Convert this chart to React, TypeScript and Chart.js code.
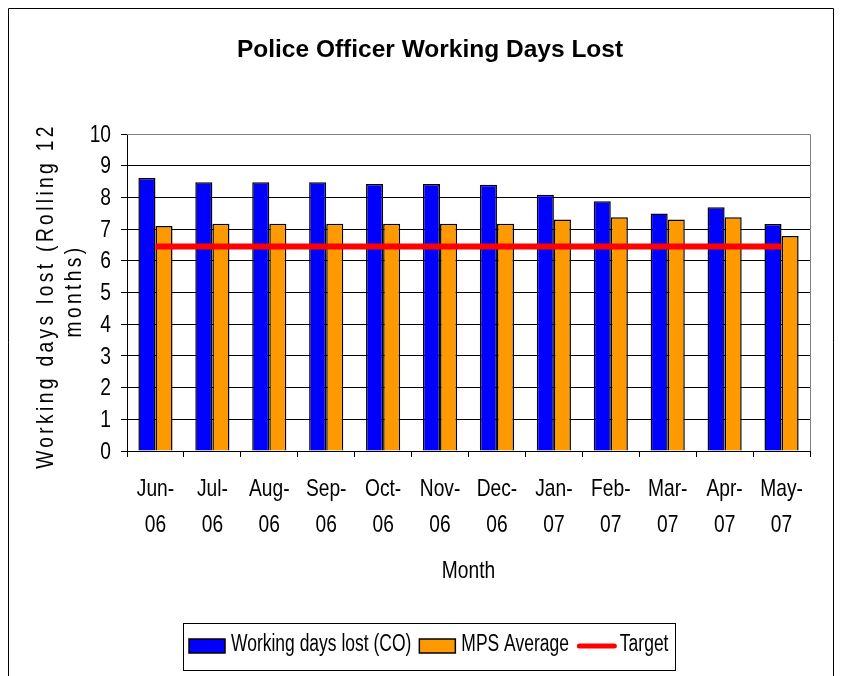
import React, { useEffect, useRef } from 'react';
import { Chart, registerables } from 'chart.js';

Chart.register(...registerables);

const categories = ['Jun-06', 'Jul-06', 'Aug-06', 'Sep-06', 'Oct-06', 'Nov-06', 'Dec-06', 'Jan-07', 'Feb-07', 'Mar-07', 'Apr-07', 'May-07'];
const workingDaysLost = [8.61, 8.48, 8.48, 8.48, 8.42, 8.42, 8.4, 8.08, 7.88, 7.49, 7.69, 7.16];
const mpsAverage = [7.1, 7.17, 7.17, 7.17, 7.17, 7.17, 7.17, 7.3, 7.37, 7.3, 7.37, 6.78];
const target = [6.45, 6.45, 6.45, 6.45, 6.45, 6.45, 6.45, 6.45, 6.45, 6.45, 6.45, 6.45];
const yMin = 0;
const yMax = 10;
const yStep = 1;
const yTitleLines = ['Working days lost (Rolling 12', 'months)'];
const chartTitle = 'Police Officer Working Days Lost';
const xTitle = 'Month';

const FONT = "'Liberation Sans', Arial, sans-serif";
const SX = 0.8; // horizontal condensing (Arial Narrow look)

const W = 827;
const H = 668;

function drawScaled(ctx: CanvasRenderingContext2D, text: string, x: number, y: number, align: CanvasTextAlign, sx: number) {
  ctx.save();
  ctx.translate(x, y);
  ctx.scale(sx, 1);
  ctx.textAlign = align;
  ctx.fillText(text, 0, 0);
  ctx.restore();
}

const framePlugin = {
  id: 'frame',
  beforeDatasetsDraw(chart: any) {
    const { ctx, chartArea } = chart;
    ctx.save();
    ctx.strokeStyle = '#808080';
    ctx.lineWidth = 1;
    ctx.beginPath();
    ctx.moveTo(chartArea.left, Math.round(chartArea.top) + 0.5);
    ctx.lineTo(Math.round(chartArea.right) + 0.5, Math.round(chartArea.top) + 0.5);
    ctx.lineTo(Math.round(chartArea.right) + 0.5, chartArea.bottom);
    ctx.stroke();
    ctx.restore();
  },
  afterDraw(chart: any) {
    const { ctx, chartArea } = chart;
    const xs = chart.scales.x;
    const ys = chart.scales.y;
    ctx.save();
    // outer frame
    ctx.strokeStyle = '#000';
    ctx.lineWidth = 1;
    ctx.beginPath();
    ctx.moveTo(0.5, H);
    ctx.lineTo(0.5, 0.5);
    ctx.lineTo(825.5, 0.5);
    ctx.lineTo(825.5, H);
    ctx.stroke();

    ctx.fillStyle = '#000';
    ctx.font = `24px ${FONT}`;
    ctx.textBaseline = 'middle';

    // y tick labels
    ys.ticks.forEach((t: any) => {
      const y = ys.getPixelForValue(t.value);
      drawScaled(ctx, String(t.value), chartArea.left - 16, y + 1, 'right', SX);
    });

    // x tick labels (two lines each)
    const labels = chart.data.labels as string[][];
    labels.forEach((lines, i) => {
      const x = xs.getPixelForValue(i);
      lines.forEach((ln, j) => {
        drawScaled(ctx, ln, x, chartArea.bottom + 38 + j * 36, 'center', SX);
      });
    });

    // x title
    drawScaled(ctx, xTitle, (chartArea.left + chartArea.right) / 2, 563, 'center', SX);

    // y-axis title
    ctx.textBaseline = 'alphabetic';
    (ctx as any).letterSpacing = '4.2px';
    const yPos = [288, 283];
    const xPos = [45, 73];
    yTitleLines.forEach((line, i) => {
      ctx.save();
      ctx.translate(xPos[i], yPos[i]);
      ctx.rotate(-Math.PI / 2);
      ctx.scale(SX, 1);
      ctx.textAlign = 'center';
      ctx.fillText(line, 0, 0);
      ctx.restore();
    });
    (ctx as any).letterSpacing = '0px';

    // legend
    const items = chart.data.datasets.map((ds: any) => ({
      label: ds.label,
      line: ds.type === 'line',
      fill: ds.backgroundColor,
      stroke: ds.borderColor,
    }));
    const LSX = 0.76;
    ctx.font = `23px ${FONT}`;
    const sw = 36;
    const lineSw = 40;
    const gapText = 6;
    const gapLine = 3;
    const gapItem = 8;
    const padL = 6;
    const padR = 7;
    const widths = items.map((it: any) => ctx.measureText(it.label).width * LSX);
    let total = padL + padR;
    items.forEach((it: any, i: number) => {
      total += it.line ? lineSw + gapLine : sw + gapText;
      total += widths[i];
      if (i < items.length - 1) total += gapItem;
    });
    const cx = (chartArea.left + chartArea.right) / 2 - 39;
    const textY = 637;
    const swY = 638;
    const left = Math.round(cx - total / 2);
    const top = 615;
    const bh = 47;
    ctx.strokeStyle = '#000';
    ctx.lineWidth = 1;
    ctx.strokeRect(left + 0.5, top + 0.5, Math.round(total), bh);
    let x = left + padL;
    ctx.textBaseline = 'middle';
    items.forEach((it: any, i: number) => {
      if (it.line) {
        ctx.strokeStyle = it.stroke;
        ctx.lineWidth = 5;
        ctx.lineCap = 'round';
        ctx.beginPath();
        ctx.moveTo(x + 2.5, swY);
        ctx.lineTo(x + lineSw - 2.5, swY);
        ctx.stroke();
        x += lineSw + gapLine;
      } else {
        ctx.fillStyle = it.fill;
        ctx.fillRect(x, swY - 7, sw, 14);
        ctx.strokeStyle = '#000';
        ctx.lineWidth = 1.5;
        ctx.strokeRect(x, swY - 7, sw, 14);
        x += sw + gapText;
      }
      ctx.fillStyle = '#000';
      drawScaled(ctx, it.label, x, textY, 'left', LSX);
      x += widths[i] + gapItem;
    });
    ctx.restore();
  },
};

export default function App() {
  const ref = useRef<HTMLCanvasElement>(null);
  useEffect(() => {
    if (!ref.current) return;
    const labels = categories.map((c) => {
      const [m, y] = c.split('-');
      return [m + '-', y];
    });
    const chart = new Chart(ref.current, {
      type: 'bar',
      data: {
        labels,
        datasets: [
          {
            type: 'bar',
            label: 'Working days lost (CO)',
            data: workingDaysLost,
            backgroundColor: '#0000FF',
            borderColor: '#000000',
            borderWidth: 1.5,
            categoryPercentage: 0.6,
            barPercentage: 1,
            order: 2,
          },
          {
            type: 'bar',
            label: 'MPS Average',
            data: mpsAverage,
            backgroundColor: '#FF9900',
            borderColor: '#000000',
            borderWidth: 1.5,
            categoryPercentage: 0.6,
            barPercentage: 1,
            order: 2,
          },
          {
            type: 'line',
            label: 'Target',
            data: target,
            borderColor: '#FF0000',
            backgroundColor: '#FF0000',
            borderWidth: 6,
            pointRadius: 0,
            borderCapStyle: 'butt',
            order: 1,
          },
        ] as any,
      },
      options: {
        responsive: false,
        animation: false,
        layout: { padding: { left: 42, right: 25, top: 0, bottom: 105 } },
        plugins: {
          legend: { display: false },
          tooltip: { enabled: false },
          title: {
            display: true,
            text: chartTitle,
            color: '#000',
            font: { family: FONT, size: 24.5, weight: 'bold', lineHeight: 1.2 },
            padding: { top: 28, bottom: 68.6 },
          },
        },
        scales: {
          x: {
            offset: true,
            grid: { display: true, drawOnChartArea: false, offset: true, tickLength: 6, color: '#000' },
            border: { color: '#000', width: 1 },
            ticks: {
              font: { family: FONT, size: 24, lineHeight: 1.4 },
              color: 'rgba(0,0,0,0)',
              padding: 17,
              maxRotation: 0,
              autoSkip: false,
            },
            afterFit: (s: any) => {
              s.height = 120;
            },
          },
          y: {
            min: yMin,
            max: yMax,
            ticks: { stepSize: yStep, autoSkip: false, font: { family: FONT, size: 20 }, color: 'rgba(0,0,0,0)', padding: 10 },
            grid: {
              color: (c: any) => (c.tick && c.tick.value === yMax ? '#808080' : '#000'),
              tickColor: '#000',
              tickLength: 6,
            },
            border: { color: '#000', width: 1 },
            afterFit: (s: any) => {
              s.width = 77;
            },
          },
        },
      } as any,
      plugins: [framePlugin],
    });
    return () => chart.destroy();
  }, []);
  return <canvas ref={ref} width={W} height={H} style={{ display: 'block', width: W, height: H }} />;
}
